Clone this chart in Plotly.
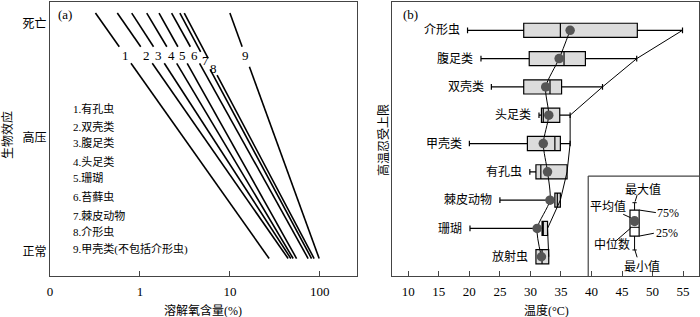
import numpy as np
import plotly.graph_objects as go

# ---------------- data ----------------
# Panel (a): dissolved oxygen (%) at which each group is normal / dies
groups_a = ["有孔虫", "双壳类", "腹足类", "头足类", "珊瑚", "苔藓虫", "棘皮动物", "介形虫", "甲壳类(不包括介形虫)"]
do_normal = [27.3, 44.4, 47.6, 50.5, 55.1, 74.1, 80.9, 86.4, 98.3]
do_death = [0.32, 0.56, 0.81, 1.19, 1.63, 2.25, 2.78, 3.11, 10.0]
effect_levels = ["正常", "高压", "死亡"]
effect_values = [1, 2, 3]
do_ticks = [0.1, 1, 10, 100]
do_ticktext = ["0", "1", "10", "100"]

# Panel (b): upper thermal tolerance (°C)
taxa = ["介形虫", "腹足类", "双壳类", "头足类", "甲壳类", "有孔虫", "棘皮动物", "珊瑚", "放射虫"]
t_min = [19.7, 21.9, 23.6, 31.4, 20.0, 29.9, 25.0, 20.1, 30.9]
t_q1 = [28.9, 29.8, 28.9, 31.8, 29.5, 30.9, 34.0, 31.9, 30.9]
t_median = [34.9, 35.5, 33.2, 32.1, 34.0, 31.7, 34.4, 32.1, 31.9]
t_q3 = [47.5, 39.0, 35.1, 34.8, 34.9, 36.0, 34.9, 32.8, 33.0]
t_max = [54.9, 47.4, 41.8, 36.5, 36.5, 36.0, 34.9, 32.8, 33.0]
t_mean = [36.5, 34.7, 32.5, 33.0, 32.1, 32.8, 33.2, 31.1, 31.8]
temp_ticks = list(range(10, 60, 5))

# ---------------- style / layout settings ----------------
FONT = "Liberation Serif, Times New Roman, Noto Sans CJK SC, serif"
FRAME = "#444444"
Y_LINE_BOT, Y_LINE_TOP = 0.94, 3.09
# gap around the number label of each line (lower, upper, label level)
gap_lo = [2.650] * 6 + [2.597, 2.547, 2.620]
gap_hi = [2.795] * 6 + [2.751, 2.694, 2.795]
lab_y = [2.722] * 6 + [2.672, 2.606, 2.722]
legend_a_y = [2.255, 2.100, 1.954, 1.794, 1.642, 1.481, 1.321, 1.175, 1.020]

fig = go.Figure()


def x_on_line(i, y):
    lb, lt = np.log10(do_normal[i]), np.log10(do_death[i])
    f = (y - Y_LINE_BOT) / (Y_LINE_TOP - Y_LINE_BOT)
    return 10 ** (lb + f * (lt - lb))


annotations = []
for i in range(len(groups_a)):
    xs = [do_normal[i], x_on_line(i, gap_lo[i]), None, x_on_line(i, gap_hi[i]), do_death[i]]
    ys = [Y_LINE_BOT, gap_lo[i], None, gap_hi[i], Y_LINE_TOP]
    fig.add_trace(go.Scatter(x=xs, y=ys, mode="lines", line=dict(color="black", width=1.6),
                             xaxis="x", yaxis="y", hoverinfo="skip"))
    annotations.append(dict(x=np.log10(x_on_line(i, lab_y[i])), y=lab_y[i], xref="x", yref="y",
                            xanchor="center", yanchor="middle",
                            text=str(i + 1), showarrow=False, font=dict(size=13)))
    annotations.append(dict(x=0.0324, y=legend_a_y[i], xref="paper", yref="y", xanchor="left",
                            yanchor="middle",
                            text=f"{i + 1}.{groups_a[i]}", showarrow=False, font=dict(size=11)))

# Panel (b)
fig.add_trace(go.Box(y=taxa, q1=t_q1, median=t_median, q3=t_q3, lowerfence=t_min, upperfence=t_max,
                     orientation="h", xaxis="x2", yaxis="y2", fillcolor="#dcdcdc",
                     line=dict(color="black", width=1.2), width=0.5, whiskerwidth=0.4,
                     boxpoints=False, hoverinfo="skip"))
fig.add_trace(go.Scatter(x=t_max, y=taxa, mode="lines", line=dict(color="black", width=1),
                         xaxis="x2", yaxis="y2", hoverinfo="skip"))
fig.add_trace(go.Scatter(x=t_mean, y=taxa, mode="lines",
                         line=dict(color="black", width=1, shape="spline", smoothing=0.7),
                         xaxis="x2", yaxis="y2", hoverinfo="skip"))
fig.add_trace(go.Scatter(x=t_mean, y=taxa, mode="markers",
                         marker=dict(size=9.5, color="#555555", line=dict(width=0)),
                         xaxis="x2", yaxis="y2", hoverinfo="skip"))

for i, name in enumerate(taxa):
    annotations.append(dict(x=t_min[i] - 0.9, y=name, xref="x2", yref="y2", xanchor="right",
                            yanchor="middle", text=name, showarrow=False, font=dict(size=12)))

# inset legend of the box symbol (panel b coordinates)
shapes = []
L = dict(color="black", width=1)
shapes.append(dict(type="line", x0=39.46, x1=39.46, y0=5.15, y1=8.68, xref="x2", yref="y2", line=dict(color=FRAME, width=1.2)))
shapes.append(dict(type="line", x0=39.46, x1=57.6, y0=5.15, y1=5.15, xref="x2", yref="y2", line=dict(color=FRAME, width=1.2)))
shapes.append(dict(type="rect", x0=46.3, x1=47.8, y0=6.35, y1=7.27, xref="x2", yref="y2",
                   line=dict(color="black", width=1.2), fillcolor="white"))
shapes.append(dict(type="line", x0=46.3, x1=47.8, y0=6.96, y1=6.96, xref="x2", yref="y2", line=L))
for (a, b) in [(6.09, 6.35), (7.27, 7.76)]:
    shapes.append(dict(type="line", x0=47.05, x1=47.05, y0=a, y1=b, xref="x2", yref="y2", line=L))
for c in [6.09, 7.76]:
    shapes.append(dict(type="line", x0=46.7, x1=47.4, y0=c, y1=c, xref="x2", yref="y2", line=L))
shapes.append(dict(type="circle", x0=46.25, x1=47.85, y0=6.56, y1=6.92, xref="x2", yref="y2",
                   line=dict(width=0), fillcolor="#555555"))
for (xa, ya, xb, yb) in [(47.47, 5.82, 47.14, 6.05), (45.19, 6.50, 46.4, 6.62), (47.81, 6.35, 50.54, 6.44),
                         (47.81, 7.27, 50.21, 7.17), (43.83, 7.47, 46.4, 6.99), (47.1, 7.76, 47.47, 8.02)]:
    shapes.append(dict(type="line", x0=xa, x1=xb, y0=ya, y1=yb, xref="x2", yref="y2", line=L))

for (txt, xx, yy) in [("最大值", 48.46, 5.62), ("平均值", 42.73, 6.23), ("75%", 52.55, 6.44),
                      ("25%", 52.39, 7.15), ("中位数", 43.29, 7.58), ("最小值", 48.2, 8.35)]:
    annotations.append(dict(x=xx, y=yy, xref="x2", yref="y2", text=txt, showarrow=False,
                            xanchor="center", yanchor="middle", font=dict(size=12)))

# titles and panel tags
annotations += [
    dict(x=0.0092, y=0.956, xref="paper", yref="paper", xanchor="left", yanchor="middle",
         text="(a)", showarrow=False, font=dict(size=13)),
    dict(x=0.5408, y=0.956, xref="paper", yref="paper", xanchor="left", yanchor="middle",
         text="(b)", showarrow=False, font=dict(size=13)),
    dict(x=0.2357, y=-0.1277, xref="paper", yref="paper", xanchor="center", yanchor="middle",
         text="溶解氧含量(%)", showarrow=False, font=dict(size=12)),
    dict(x=0.7653, y=-0.1277, xref="paper", yref="paper", xanchor="center", yanchor="middle",
         text="温度(°C)", showarrow=False, font=dict(size=12)),
    dict(x=-0.0647, y=0.5146, xref="paper", yref="paper", xanchor="center", yanchor="middle",
         text="生物效应", textangle=-90, showarrow=False, font=dict(size=12)),
    dict(x=0.5131, y=0.496, xref="paper", yref="paper", xanchor="center", yanchor="middle",
         text="高温忍受上限", textangle=-90, showarrow=False, font=dict(size=12)),
]

axis_common = dict(showline=True, mirror=True, linecolor=FRAME, linewidth=1.3, showgrid=False,
                   zeroline=False, ticks="inside", ticklen=5, tickcolor=FRAME, tickwidth=1)

fig.update_layout(
    width=700, height=317, margin=dict(l=50, r=1, t=2, b=41),
    plot_bgcolor="white", paper_bgcolor="white", showlegend=False,
    font=dict(family=FONT, size=12, color="black"),
    xaxis=dict(domain=[0, 0.4726], type="log", range=[-1, 2.41], tickvals=do_ticks, ticktext=do_ticktext,
               tickfont=dict(size=13), anchor="y", ticklabelstandoff=3, **axis_common),
    yaxis=dict(domain=[0, 1], range=[0.787, 3.187], tickvals=effect_values, ticktext=effect_levels,
               anchor="x", tickfont=dict(size=12), **{**axis_common, "ticks": ""}),
    xaxis2=dict(domain=[0.5277, 1], range=[7.41, 57.6], tickvals=temp_ticks, tickfont=dict(size=13),
                anchor="y2", ticklabelstandoff=3, **axis_common),
    yaxis2=dict(domain=[0, 1], type="category", categoryorder="array", categoryarray=taxa,
                range=[8.68, -1.0], showticklabels=False, anchor="x2", **{**axis_common, "ticks": ""}),
    annotations=annotations, shapes=shapes,
)

fig.write_html("out.html", config={"displayModeBar": False},
               post_script="document.body.style.margin='0';document.body.style.padding='0';")
